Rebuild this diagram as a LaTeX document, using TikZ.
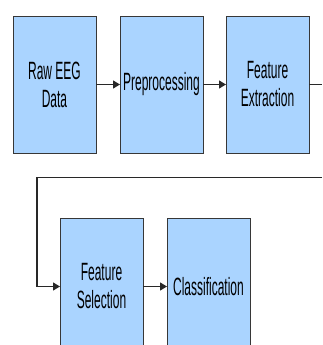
\documentclass[tikz,border=0pt]{standalone}
\usepackage{fontspec}
\usepackage{xcolor}
\usepackage{tikz}
\usetikzlibrary{
    positioning,
    arrows.meta
}
\newfontfamily\boxfont{Liberation Sans}[FakeStretch=0.48]
\definecolor{boxBlue}{RGB}{170, 212, 255}
\definecolor{boxEdge}{RGB}{55, 55, 55}
\definecolor{lineGray}{RGB}{40, 40, 40}
\tikzset{
    % 処理ブロックのスタイル
    block/.style={
        rectangle,
        draw=boxEdge,            % 枠線の色
        line width=0.9pt,
        fill=boxBlue,
        minimum width=83pt,      % 幅
        minimum height=137pt,    % 高さ
        inner sep=0pt,
        outer sep=0pt,
        align=center,
        font=\boxfont\fontsize{25}{28}\selectfont
    },
    % 矢印のスタイル
    arrow/.style={
        -{Triangle[length=7pt, width=8pt]},
        color=lineGray,
        line width=1.3pt
    }
}
\begin{document}
\begin{tikzpicture}[x=1pt, y=-1pt, node distance=24pt]

    % 描画範囲
    \useasboundingbox (0,0) rectangle (322,345);
    \clip (0,0) rectangle (322,345);

    % [1] 生データ
    \node[block] (n1) at (54.5,84.5) {Raw EEG\\Data};

    % [2] 前処理
    \node[block, right=of n1] (n2) {Preprocessing};

    % [3] 特徴抽出
    \node[block, right=23pt of n2] (n3) {Feature\\Extraction};

    % [4] 特徴選択 (2段目)
    \node[block] (n4) at (101.5,286.5) {Feature\\Selection};

    % [5] 分類
    \node[block, right=of n4] (n5) {Classification};

    % 折り返しのための座標
    \coordinate (exitTop) at (322,84.5);
    \coordinate (exitBot) at (322,177.5);
    \coordinate (turn) at (37,177.5);

    % 矢印の描画
    \draw[arrow] (n1) -- (n2);
    \draw[arrow] (n2) -- (n3);
    \draw[arrow, -] (n3.east) -- (exitTop);
    \draw[arrow] (exitBot) -- (turn) |- (n4.west);
    \draw[arrow] (n4) -- (n5);

\end{tikzpicture}
\end{document}
